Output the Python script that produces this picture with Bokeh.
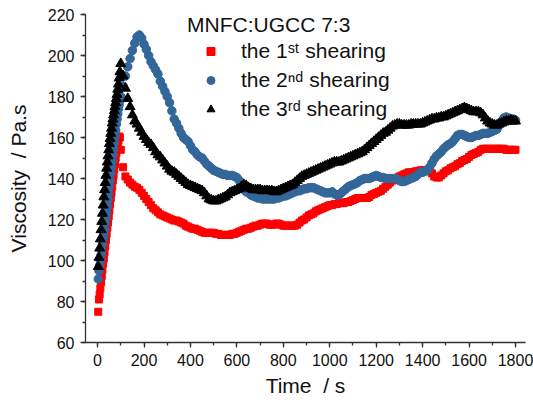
from bokeh.plotting import figure
from bokeh.models import Legend, LegendItem, SingleIntervalTicker, Range1d
from bokeh.embed import file_html
from bokeh.resources import INLINE

# ---- data -------------------------------------------------------------
# sampling times (s): dense during start-up, then every 10 s
t_rise = list(range(3, 97, 3))
t_main = list(range(100, 1801, 10))
time_s = t_rise + t_main

shear1_rise = [75, 81, 83.5, 86.5, 89.5, 92.5, 95.5, 98.5, 101, 104, 107, 110, 113, 116,
               118.5, 121.5, 124.5, 127.5, 130.5, 133, 136, 139, 141.5, 144.5, 147, 150,
               152.5, 155, 157, 158.5, 160.5, 160]
shear1_main = [
    154, 145.5, 141, 139.5, 138, 137, 136, 135.5, 134.5, 133,
    131.5, 130, 128.5, 127, 125.5, 124.5, 123.5, 122.5, 122, 121.5,
    121, 120.5, 120, 119.5, 119.5, 119, 118.5, 118, 117, 116.5,
    116, 115.5, 115.5, 115, 114.5, 114, 113.5, 113.5, 113.5, 113.5,
    113.5, 113, 113, 112.5, 112.5, 112.5, 112.5, 112.5, 113, 113,
    113.5, 114, 114.5, 115, 115.5, 115.5, 116, 116.5, 117, 117,
    117.5, 118, 118, 118, 117.5, 117.5, 117.5, 118, 118, 117.5,
    117, 117, 117, 117, 117, 117, 117.5, 118.5, 119.5, 120,
    121, 122, 122.5, 123, 124, 124.5, 125, 125.5, 126, 126.5,
    127, 127, 127.5, 127.5, 128, 128, 128, 128.5, 128.5, 129,
    129.5, 130, 130.5, 130.5, 130.5, 130.5, 130.5, 131, 132, 132.5,
    133, 133.5, 134, 135, 136, 137, 138, 139, 139.5, 140,
    141, 141.5, 142, 142.5, 143, 143, 143, 143.5, 143.5, 144,
    144, 144, 144, 143.5, 142.5, 141, 140.5, 140.5, 141.5, 142.5,
    143.5, 144, 145, 145.5, 146, 147, 147.5, 148.5, 149, 149.5,
    150.5, 151.5, 152, 152.5, 153, 154, 154.5, 154.5, 154.5, 154.5,
    154.5, 154.5, 154.5, 154.5, 154.5, 154.5, 154, 154, 154, 154,
    154]

shear2_rise = [91, 95, 97.5, 100, 102.5, 105, 108, 110.5, 113, 115.5, 118, 120.5, 123, 126,
               129.5, 132.5, 136, 139, 142.5, 145.5, 148.5, 151.5, 154.5, 157.5, 160.5,
               163.5, 166.5, 169, 171.5, 174, 176, 178]
shear2_main = [
    180, 185, 190, 194.5, 198.5, 202.5, 206, 209, 210, 208.5,
    205.5, 203, 200, 197, 195, 193, 191, 187.5, 185, 182.5,
    180, 177, 173, 169, 167, 164.5, 162, 160, 159, 158,
    156, 154, 153, 151.5, 150.5, 150, 148.5, 147, 146, 145,
    144, 143.5, 143, 142.5, 142, 142, 141.5, 141.5, 141.5, 141,
    140.5, 139, 137, 135, 133.5, 133, 132, 131.5, 131, 130.5,
    130.5, 130, 130, 130, 130, 130, 130, 130.5, 130.5, 131,
    131.5, 131.5, 132, 132.5, 133, 133.5, 134, 134, 134.5, 135,
    135, 135.5, 135.5, 135.5, 135, 134.5, 134, 133.5, 133, 133,
    133, 133.5, 132.5, 132, 132, 133, 134, 135, 136, 136.5,
    137, 137.5, 138, 139, 139.5, 140, 140, 140, 140.5, 141,
    141.5, 141, 140.5, 140.5, 140, 140, 140, 140, 140, 139.5,
    139, 138.5, 138.5, 139, 139.5, 140, 140.5, 141, 142, 143,
    143, 143.5, 144, 145.5, 147.5, 149.5, 151, 152, 153, 154.5,
    155.5, 156.5, 157, 158, 159.5, 161, 161.5, 161.5, 161, 160.5,
    160, 160, 160.5, 161, 161, 161.5, 162, 162, 162, 162.5,
    163, 163.5, 164, 166, 168, 169.5, 170, 169.5, 169, 169,
    168.5]

shear3_rise = [97, 101.5, 106, 110.5, 115, 119, 123, 127, 131, 134.5, 138, 141.5, 145, 148,
               151, 154, 157, 159.5, 162, 164.5, 167, 169, 171, 173, 175, 177, 179, 181,
               183.5, 186, 189, 192]
shear3_main = [
    196, 190, 184, 179, 175, 171, 168, 166.5, 164.5, 162.5,
    160.5, 159, 157.5, 156.5, 155, 153, 151.5, 150.5, 149, 147.5,
    146, 144.5, 143.5, 143, 142, 141, 140, 139, 138, 137,
    136.5, 136, 135.5, 135, 134.5, 134, 133, 131.5, 130, 129.5,
    129, 129, 129.5, 130, 130.5, 131, 132, 133, 133.5, 134,
    134.5, 135, 136, 137, 136.5, 135.5, 135, 134.5, 134.5, 134.5,
    134.5, 134, 134, 134, 134, 134, 133.5, 133.5, 134, 134.5,
    135, 135.5, 136, 136.5, 137, 138, 139, 140, 141, 141.5,
    142, 142.5, 143, 143.5, 144, 144.5, 145, 145.5, 146, 146.5,
    147, 147.5, 148, 148, 148, 148.5, 149, 149.5, 150, 150.5,
    151, 151.5, 152, 152.5, 153, 154, 155, 156, 157, 158,
    159, 160, 161, 162, 162.5, 163.5, 164.5, 165.5, 166, 166.5,
    166.5, 166, 166, 166, 166, 166.5, 166.5, 166.5, 166.5, 166.5,
    167, 167.5, 168, 168.5, 169, 169, 169.5, 169.5, 170, 170,
    170.5, 171, 171.5, 172, 172.5, 173, 173.5, 174, 174.5, 174,
    173.5, 173, 172.5, 172.5, 172.5, 172, 171, 169.5, 168, 167,
    166.5, 166, 166, 166.5, 167, 167.5, 168, 168, 168.5, 168,
    168]

shear1 = shear1_rise + shear1_main
shear2 = shear2_rise + shear2_main
shear3 = shear3_rise + shear3_main

legend_title = "MNFC:UGCC 7:3"
labels = ["the 1\u02e2\u1d57 shearing", "the 2\u207f\u1d48 shearing", "the 3\u02b3\u1d48 shearing"]
x_label = "Time \u00a0/ s"
y_label = "Viscosity \u00a0/ Pa.s"

RED = "#FF0000"
BLUE = "#336699"
BLACK = "#000000"
FONT = "Liberation Sans"

# ---- figure -----------------------------------------------------------
p = figure(width=533, height=403, output_backend="svg", toolbar_location=None,
           x_range=Range1d(-52, 1843), y_range=Range1d(60, 220),
           min_border_left=85, min_border_right=8, min_border_top=14, min_border_bottom=61)
p.outline_line_color = None
p.grid.visible = False
p.background_fill_color = "white"
p.border_fill_color = "white"

r1 = p.scatter(time_s, shear1, marker="square", size=7, color=RED)
r2 = p.scatter(time_s, shear2, marker="circle", size=8.5, color=BLUE)
r3 = p.scatter(time_s, shear3, marker="triangle", size=10, color=BLACK)

p.xaxis.ticker = SingleIntervalTicker(interval=200, num_minor_ticks=2)
p.yaxis.ticker = SingleIntervalTicker(interval=20, num_minor_ticks=2)
p.xaxis.axis_label = x_label
p.yaxis.axis_label = y_label

for ax in (p.xaxis[0], p.yaxis[0]):
    ax.axis_line_width = 1.3
    ax.axis_line_color = "#333333"
    ax.major_tick_line_color = "#333333"
    ax.minor_tick_line_color = "#333333"
    ax.major_tick_line_width = 1.3
    ax.minor_tick_line_width = 1.3
    ax.major_tick_out = 5
    ax.major_tick_in = 0
    ax.minor_tick_out = 3
    ax.minor_tick_in = 0
    ax.major_label_text_font = FONT
    ax.major_label_text_font_size = "16px"
    ax.major_label_text_color = "#111111"
    ax.major_label_standoff = 6
    ax.axis_label_text_font = FONT
    ax.axis_label_text_font_size = "21px"
    ax.axis_label_text_font_style = "normal"
    ax.axis_label_text_color = "#111111"

p.yaxis[0].axis_label_standoff = 15
p.xaxis[0].axis_label_standoff = 5

legend = Legend(
    items=[LegendItem(label=labels[0], renderers=[r1]),
           LegendItem(label=labels[1], renderers=[r2]),
           LegendItem(label=labels[2], renderers=[r3])],
    title=legend_title,
    location=(102, 221),
    background_fill_alpha=0, border_line_color=None,
    padding=0, margin=0, spacing=5,
    glyph_width=47, glyph_height=20, label_height=20, label_standoff=7,
    label_text_font=FONT, label_text_font_size="21px", label_text_color="#111111",
    title_text_font=FONT, title_text_font_size="21px", title_text_font_style="normal",
    title_text_color="#111111", title_standoff=2,
)
p.add_layout(legend)

open("out.html", "w").write(file_html(p, INLINE))
